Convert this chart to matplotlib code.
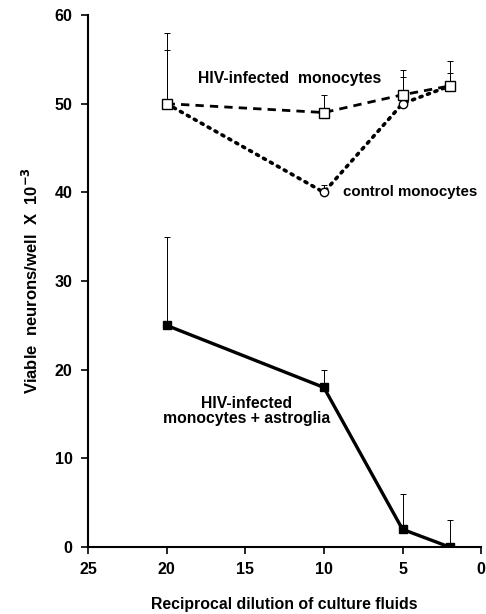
import matplotlib
matplotlib.use("Agg")
import matplotlib.pyplot as plt

dilution = [20, 10, 5, 2]
hiv_mono = [50, 49, 51, 52]
hiv_mono_err = [8, 2, 2.8, 2.8]
ctrl_mono = [50, 40, 50, 52]
ctrl_mono_err = [6, 0.8, 3, 1.5]
hiv_astro = [25, 18, 2, 0]
hiv_astro_err = [10, 2, 4, 3]

xticks = [25, 20, 15, 10, 5, 0]
yticks = [0, 10, 20, 30, 40, 50, 60]

plt.rcParams['font.family'] = ['Liberation Sans', 'DejaVu Sans']
plt.rcParams['font.weight'] = 'bold'

fig = plt.figure(figsize=(4.86, 6.14), dpi=100)
ax = fig.add_axes([0.181, 0.109, 0.809, 0.8666])

ebkw = dict(ecolor='black', elinewidth=0.7, capsize=2.5, capthick=0.7)

ax.errorbar(dilution, ctrl_mono, yerr=[[0]*4, ctrl_mono_err], fmt='none', **ebkw)
ax.errorbar(dilution, hiv_mono, yerr=[[0]*4, hiv_mono_err], fmt='none', **ebkw)
ax.errorbar(dilution, hiv_astro, yerr=[[0]*4, hiv_astro_err], fmt='none', **ebkw)

ax.plot(dilution, ctrl_mono, color='black', linestyle=(0, (0.6, 1.6)),
        linewidth=2.6, dash_capstyle='round', marker='o', markersize=6,
        markerfacecolor='white', markeredgecolor='black', markeredgewidth=1.0, zorder=3)
ax.plot(dilution, hiv_mono, color='black', linestyle=(0, (3, 2.2)),
        linewidth=2.0, marker='s', markersize=6.5,
        markerfacecolor='white', markeredgecolor='black', markeredgewidth=1.0, zorder=4)
ax.plot(dilution, hiv_astro, color='black', linestyle='-', linewidth=2.4,
        marker='s', markersize=6, markerfacecolor='black', markeredgecolor='black', zorder=5)

ax.text(12.2, 52.8, 'HIV-infected  monocytes', ha='center', va='center', fontsize=11.3, fontweight='bold')
ax.text(8.8, 40.0, 'control monocytes', ha='left', va='center', fontsize=10.8, fontweight='bold')
ax.text(14.9, 17.0, 'HIV-infected\nmonocytes + astroglia', ha='center', va='top',
        fontsize=11.3, fontweight='bold', linespacing=1.0)

ax.set_xlim(25, 0)
ax.set_ylim(0, 60)
ax.set_xticks(xticks)
ax.set_yticks(yticks)
ax.tick_params(direction='out', length=5, width=1.2, labelsize=11.5, pad=6)
for lab in ax.get_xticklabels() + ax.get_yticklabels():
    lab.set_fontweight('bold')
ax.spines['top'].set_visible(False)
ax.spines['right'].set_visible(False)
ax.spines['left'].set_linewidth(1.5)
ax.spines['bottom'].set_linewidth(1.5)

ax.set_xlabel('Reciprocal dilution of culture fluids', fontsize=11.4, fontweight='bold', labelpad=14)
ax.set_ylabel('Viable  neurons/well  X  10$^{\\mathbf{-3}}$', fontsize=12, fontweight='bold', labelpad=10)

fig.savefig('out.png', dpi=100)
